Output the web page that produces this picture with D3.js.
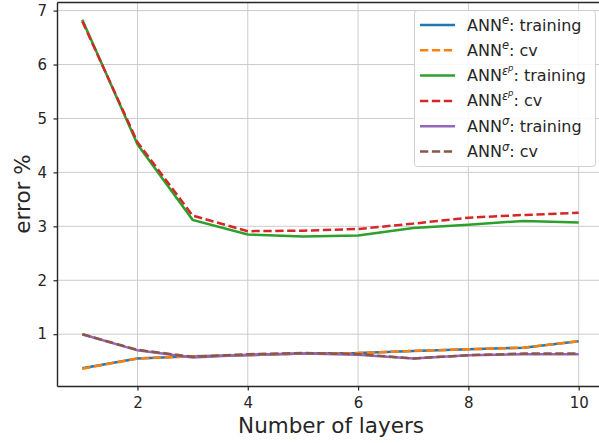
<!DOCTYPE html>
<html><head><meta charset="utf-8">
<script src="https://cdn.jsdelivr.net/npm/d3@7"></script>
<style>body{margin:0;background:#fff;} text{font-family:"DejaVu Sans",sans-serif;fill:#262626;}</style>
</head><body><svg id="c" width="599" height="443"></svg>
<script>
const layers = [1,2,3,4,5,6,7,8,9,10];
const eTrain   = [0.37,0.55,0.59,0.61,0.64,0.65,0.69,0.72,0.75,0.87];
const eCv      = [0.36,0.55,0.59,0.61,0.64,0.65,0.69,0.72,0.75,0.87];
const epTrain  = [6.83,4.52,3.12,2.85,2.81,2.83,2.97,3.03,3.10,3.07];
const epCv     = [6.80,4.56,3.20,2.91,2.92,2.95,3.05,3.16,3.21,3.25];
const sTrain   = [1.00,0.70,0.57,0.62,0.64,0.62,0.55,0.61,0.63,0.63];
const sCv      = [1.00,0.71,0.58,0.63,0.65,0.63,0.55,0.61,0.64,0.64];
const xTicks = [2,4,6,8,10];
const yTicks = [1,2,3,4,5,6,7];
const series = [
  {vals:eTrain, color:"#1f77b4", dash:null, sup:"e", subsup:null, kind:"training"},
  {vals:eCv, color:"#ff7f0e", dash:"8.3,3.6", sup:"e", subsup:null, kind:"cv"},
  {vals:epTrain, color:"#2ca02c", dash:null, sup:"ε", subsup:"p", kind:"training"},
  {vals:epCv, color:"#d62728", dash:"8.3,3.6", sup:"ε", subsup:"p", kind:"cv"},
  {vals:sTrain, color:"#9467bd", dash:null, sup:"σ", subsup:null, kind:"training"},
  {vals:sCv, color:"#8c564b", dash:"8.3,3.6", sup:"σ", subsup:null, kind:"cv"}
];
const svg = d3.select("#c");
const L=57.5, T=2.5, B=386.5, R=603.5;
const x = d3.scaleLinear().domain([0.55,10.45]).range([L,R]);
const y = d3.scaleLinear().domain([0.03,7.15]).range([B,T]);
const g = svg.append("g");
// grid
g.selectAll(".gx").data(xTicks).join("line").attr("x1",d=>x(d)).attr("x2",d=>x(d)).attr("y1",T).attr("y2",B).attr("stroke","#cccccc").attr("stroke-width",1);
g.selectAll(".gy").data(yTicks).join("line").attr("y1",d=>y(d)).attr("y2",d=>y(d)).attr("x1",L).attr("x2",R).attr("stroke","#cccccc").attr("stroke-width",1);
// axes
const xa = svg.append("g").attr("transform",`translate(0,${B})`).call(d3.axisBottom(x).tickValues(xTicks).tickSize(4).tickPadding(6.5).tickFormat(d3.format("d")));
const ya = svg.append("g").attr("transform",`translate(${L},0)`).call(d3.axisLeft(y).tickValues(yTicks).tickSize(4).tickPadding(6.5).tickFormat(d3.format("d")));
[xa,ya].forEach(a=>{a.select(".domain").remove();a.selectAll("line").attr("stroke","#262626").attr("stroke-width",1.2);a.selectAll("text").attr("font-size",15).attr("fill","#262626").style("font-family","DejaVu Sans");});
// lines
const line = d3.line().x((d,i)=>x(layers[i])).y(d=>y(d));
series.forEach(s=>{
  svg.append("path").datum(s.vals).attr("d",line).attr("fill","none").attr("stroke",s.color).attr("stroke-width",2.5).attr("stroke-dasharray",s.dash);
});
// spines
svg.append("line").attr("x1",L).attr("x2",L).attr("y1",T).attr("y2",B).attr("stroke","#262626").attr("stroke-width",1.4);
svg.append("line").attr("x1",L).attr("x2",R).attr("y1",B).attr("y2",B).attr("stroke","#262626").attr("stroke-width",1.4);
svg.append("line").attr("x1",L).attr("x2",R).attr("y1",T).attr("y2",T).attr("stroke","#262626").attr("stroke-width",1.4);
// labels
svg.append("text").attr("x",331).attr("y",433).attr("text-anchor","middle").attr("font-size",21.5).text("Number of layers");
svg.append("text").attr("transform",`translate(30,194) rotate(-90)`).attr("text-anchor","middle").attr("font-size",21.5).text("error %");
// legend
const lg = svg.append("g");
lg.append("rect").attr("x",414.5).attr("y",10.5).attr("width",181).attr("height",156).attr("rx",3).attr("fill","rgba(255,255,255,0.85)").attr("stroke","#d0d0d0");
series.forEach((s,i)=>{
  const cy = 25 + i*25.3;
  lg.append("line").attr("x1",420).attr("x2",455).attr("y1",cy).attr("y2",cy).attr("stroke",s.color).attr("stroke-width",2.5).attr("stroke-dasharray",s.dash);
  const t = lg.append("text").attr("x",467).attr("y",cy+5.5).attr("font-size",16);
  t.append("tspan").text("ANN");
  t.append("tspan").attr("dy",-6.5).attr("font-size",11.5).style("font-style","italic").text(s.sup);
  if(s.subsup){ t.append("tspan").attr("dy",-4).attr("font-size",8.5).style("font-style","italic").text(s.subsup); t.append("tspan").attr("dy",10.5).text(": "+s.kind); }
  else t.append("tspan").attr("dy",6.5).text(": "+s.kind);
});
</script></body></html>
